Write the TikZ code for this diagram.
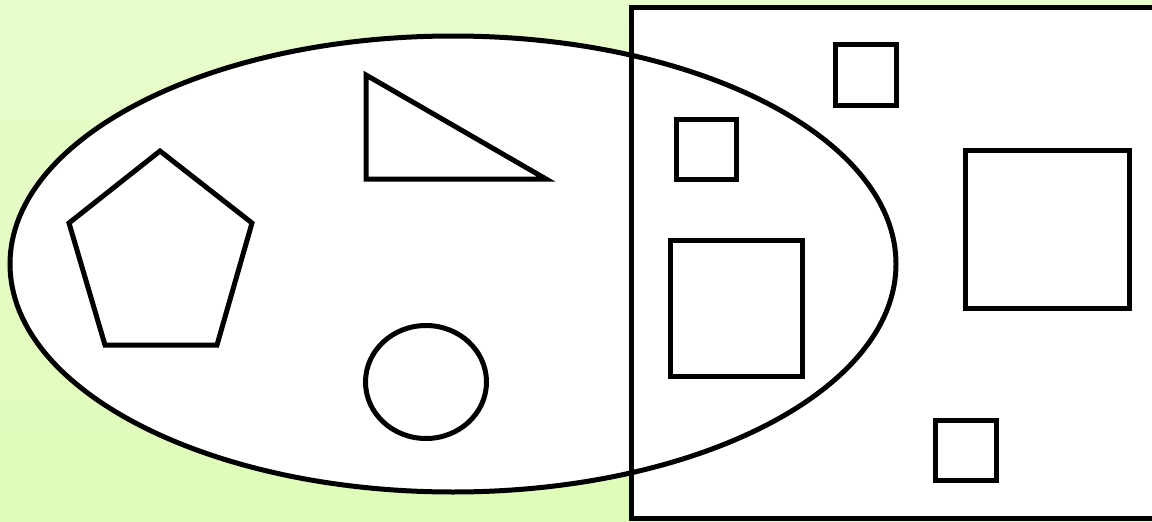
\documentclass[tikz,border=0pt]{standalone}
\definecolor{bgtop}{RGB}{233,252,204}
\definecolor{bgbot}{RGB}{222,252,184}
\tikzset{
  outline/.style={draw=black, line width=5pt, line join=miter},
  shapeline/.style={draw=black, line width=5pt, line join=miter, fill=white}
}
\begin{document}
\begin{tikzpicture}[x=1pt,y=-1pt]
\useasboundingbox (0,0) rectangle (1152,522);
\clip (0,0) rectangle (1152,522);
\shade[top color=bgtop, bottom color=bgbot] (0,0) rectangle (1152,522);
% fills
\fill[white] (453,264) ellipse [x radius=443, y radius=228];
\fill[white] (631,7) rectangle (1170,518.5);
% outlines
\draw[outline] (453,264) ellipse [x radius=443, y radius=228];
\draw[outline] (631,7) rectangle (1170,518.5);
% pentagon
\draw[shapeline] (160,151) -- (252,223) -- (217,345) -- (105,345) -- (69,223) -- cycle;
% triangle
\draw[shapeline] (366,75) -- (546,179) -- (366,179) -- cycle;
% circle
\draw[shapeline] (426,382) ellipse [x radius=60.5, y radius=56.5];
% squares
\draw[shapeline] (835,44) rectangle (896,105);
\draw[shapeline] (676,119) rectangle (736,179);
\draw[shapeline] (670,240) rectangle (802,376);
\draw[shapeline] (935,420) rectangle (996,480);
\draw[shapeline] (965,150) rectangle (1129,308);
\end{tikzpicture}
\end{document}
